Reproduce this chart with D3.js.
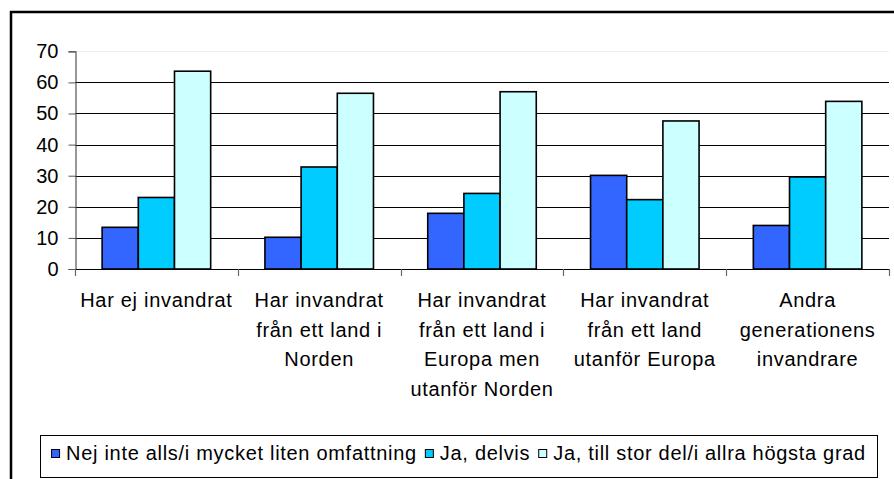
<!DOCTYPE html>
<html>
<head>
<meta charset="utf-8">
<script src="https://cdn.jsdelivr.net/npm/d3@7"></script>
<style>
  html, body { margin: 0; padding: 0; background: #fff; }
  svg { display: block; }
  text { font-family: Arial, "Liberation Sans", sans-serif; fill: #000; }
</style>
</head>
<body>
<svg id="chart" width="894" height="479"></svg>
<script>
const categories = [
  ["Har ej invandrat"],
  ["Har invandrat", "från ett land i", "Norden"],
  ["Har invandrat", "från ett land i", "Europa men", "utanför Norden"],
  ["Har invandrat", "från ett land", "utanför Europa"],
  ["Andra", "generationens", "invandrare"]
];
const seriesNames = [
  "Nej inte alls/i mycket liten omfattning",
  "Ja, delvis",
  "Ja, till stor del/i allra högsta grad"
];
const seriesNej   = [13.4, 10.2, 17.9, 30.1, 14.0];
const seriesDelvis = [23.0, 32.8, 24.3, 22.3, 29.6];
const seriesStor  = [63.6, 56.5, 57.0, 47.6, 53.9];
const seriesColors = ["#3366FF", "#00CCFF", "#CCFFFF"];
const yTicks = [0, 10, 20, 30, 40, 50, 60, 70];

const allSeries = [seriesNej, seriesDelvis, seriesStor];
const svg = d3.select("#chart");
const LS = "0.7px";

// outer chart border (right/bottom lie outside the view)
svg.append("rect").attr("x", 11).attr("y", 12).attr("width", 920).attr("height", 520)
  .attr("fill", "none").attr("stroke", "#000").attr("stroke-width", 2.5);

const pLeft = 75, pRight = 889, pTop = 51.3, pBottom = 269;
const catIdx = d3.range(categories.length);
const x0 = d3.scaleBand().domain(catIdx).range([pLeft, pRight]).paddingInner(0).paddingOuter(0);
const groupPad = x0.bandwidth() * (1.5 / 4.5) / 2;
const x1 = d3.scaleBand().domain([0, 1, 2]).range([groupPad, x0.bandwidth() - groupPad]).padding(0);
const y = d3.scaleLinear().domain([0, 70]).range([pBottom, pTop]);

// gridlines
svg.append("g").selectAll("line").data(yTicks.filter(t => t > 0)).join("line")
  .attr("x1", pLeft).attr("x2", pRight)
  .attr("y1", d => Math.round(y(d)) + 0.5).attr("y2", d => Math.round(y(d)) + 0.5)
  .attr("stroke", d => d === 70 ? "#eeeeee" : "#000").attr("stroke-width", 1);

// bars
const groups = svg.append("g").selectAll("g").data(catIdx).join("g")
  .attr("transform", i => `translate(${x0(i)},0)`);
groups.selectAll("rect").data(i => allSeries.map((s, k) => ({k, v: s[i]}))).join("rect")
  .attr("x", d => x1(d.k))
  .attr("width", x1.bandwidth())
  .attr("y", d => y(d.v))
  .attr("height", d => y(0) - y(d.v))
  .attr("fill", d => seriesColors[d.k])
  .attr("stroke", "#000").attr("stroke-width", 1.6);

// y axis
const yAxis = d3.axisLeft(y).tickValues(yTicks).tickSize(7).tickPadding(10).tickFormat(d3.format("d"));
const gy = svg.append("g").attr("transform", `translate(${pLeft + 0.5},0)`).call(yAxis);
gy.select(".domain").attr("stroke", "#555").attr("stroke-width", 1.2);
gy.selectAll(".tick line").attr("stroke", "#555");
gy.selectAll(".tick text").style("font-size", "20px").style("font-family", "Arial, 'Liberation Sans', sans-serif").attr("fill", "#000");

// x axis
svg.append("line").attr("x1", pLeft).attr("x2", pRight).attr("y1", pBottom + 0.5).attr("y2", pBottom + 0.5)
  .attr("stroke", "#000").attr("stroke-width", 1.2);
svg.append("g").selectAll("line").data(d3.range(categories.length + 1)).join("line")
  .attr("x1", i => Math.round(pLeft + i * x0.step()) + 0.5)
  .attr("x2", i => Math.round(pLeft + i * x0.step()) + 0.5)
  .attr("y1", pBottom).attr("y2", pBottom + 7)
  .attr("stroke", "#666").attr("stroke-width", 1.2);

// category labels
const lab = svg.append("g").selectAll("text").data(catIdx).join("text")
  .attr("text-anchor", "middle")
  .attr("x", i => x0(i) + x0.bandwidth() / 2)
  .attr("y", 307)
  .style("font-size", "20px")
  .style("letter-spacing", LS);
lab.selectAll("tspan").data(i => categories[i]).join("tspan")
  .attr("x", function() { return this.parentNode.getAttribute("x"); })
  .attr("dy", (d, j) => j === 0 ? 0 : 29.5)
  .text(d => d);

// legend
const lg = svg.append("g");
const boxX = 40, boxY = 435, boxW = 837, boxH = 42;
lg.append("rect").attr("x", boxX + 0.5).attr("y", boxY + 0.5).attr("width", boxW).attr("height", boxH)
  .attr("fill", "#fff").attr("stroke", "#000").attr("stroke-width", 1);
let cx = 0;
const items = lg.append("g");
seriesNames.forEach((name, k) => {
  const it = items.append("g").attr("transform", `translate(${cx},0)`);
  it.append("rect").attr("x", 0.5).attr("y", 449.5).attr("width", 8).attr("height", 8)
    .attr("fill", seriesColors[k]).attr("stroke", "#000").attr("stroke-width", 1);
  const t = it.append("text").attr("x", 15).attr("y", 460).style("font-size", "20px")
    .style("letter-spacing", LS).text(name);
  cx += 15 + t.node().getComputedTextLength() + 8;
});
const totalW = cx - 8;
items.attr("transform", `translate(${boxX + (boxW - totalW) / 2},0)`);
</script>
</body>
</html>
